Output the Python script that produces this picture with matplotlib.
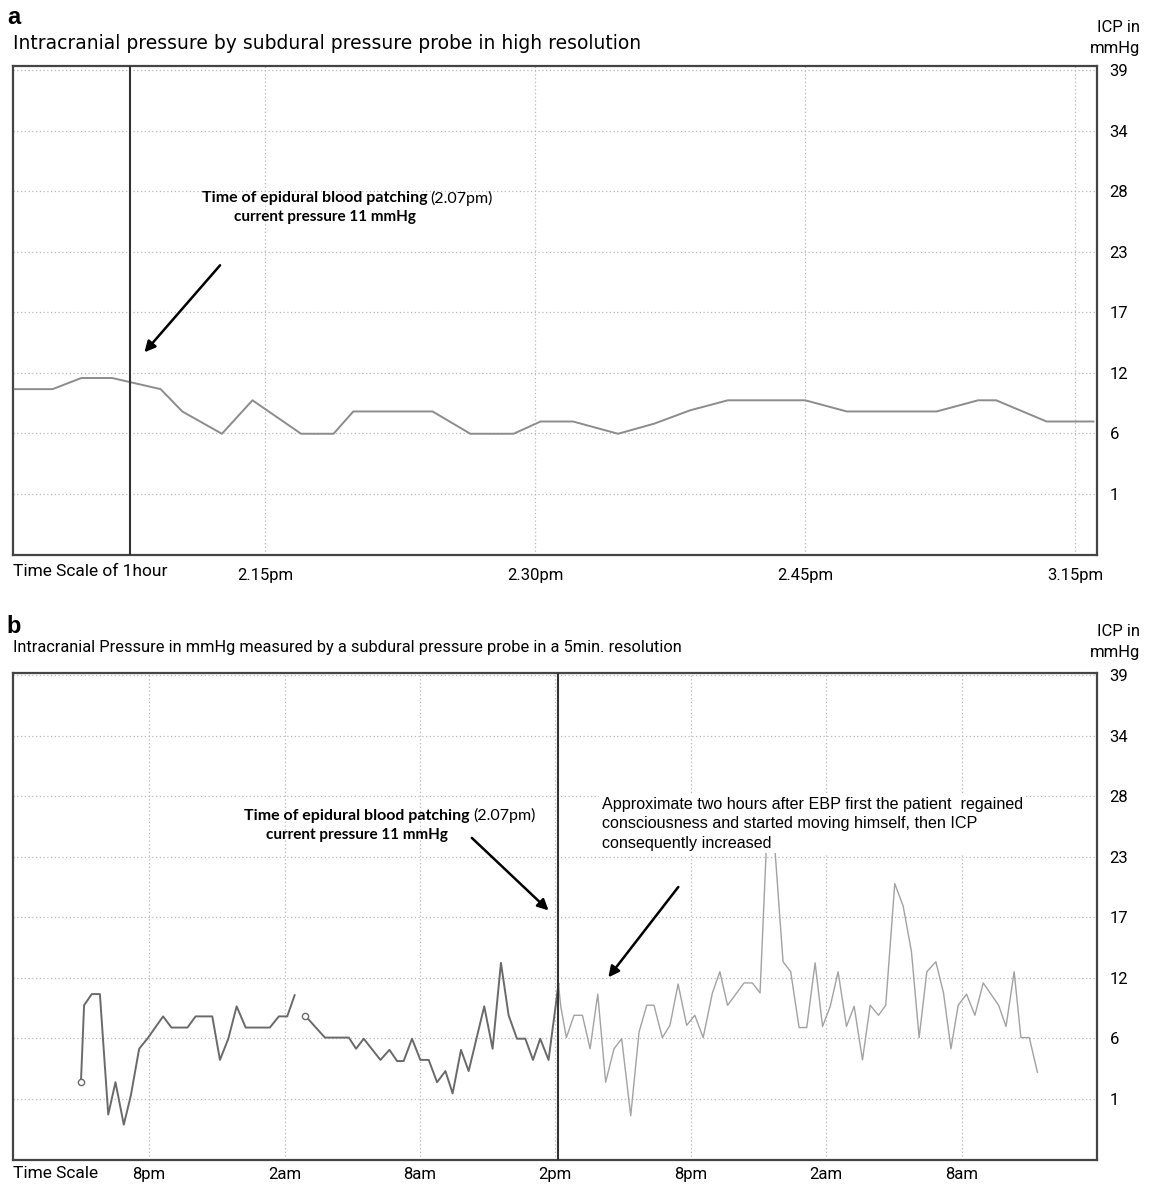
import numpy as np
import matplotlib
matplotlib.use("Agg")
from matplotlib import pyplot as plt

# ICP values (mmHg)
# panel a: minutes after 2pm
a_min = [1.1, 3.2, 4.8, 6.5, 9.2, 10.4, 12.6, 14.3, 17.0, 18.8, 19.9, 24.3, 26.4,
         28.8, 30.3, 32.1, 34.6, 36.6, 38.6, 40.7, 45.0, 47.3, 52.3, 54.6, 55.6,
         58.4, 61.0]
a_icp = [10.4, 10.4, 11.4, 11.4, 10.4, 8.4, 6.4, 9.4, 6.4, 6.4, 8.4, 8.4, 6.4,
         6.4, 7.5, 7.5, 6.4, 7.3, 8.5, 9.4, 9.4, 8.4, 8.4, 9.4, 9.4, 7.5, 7.5]
a_ticks = [15, 30, 45, 60]
a_labels = ["2.15pm", "2.30pm", "2.45pm", "3.15pm"]
a_ebp = 7.5

# panel b: hours after 8pm (day 1)
b1_h = [-3.02, -2.88, -2.54, -2.18, -1.81, -1.49, -1.12, -0.81, -0.44, -0.04, 0.62,
        0.99, 1.70, 2.06, 2.80, 3.14, 3.51, 3.88, 4.28, 5.35, 5.75, 6.12, 6.45]
b1_v = [2.5, 9.4, 10.4, 10.4, -0.4, 2.5, -1.3, 1.3, 5.5, 6.5, 8.4, 7.4, 7.4, 8.4,
        8.4, 4.5, 6.4, 9.3, 7.4, 7.4, 8.4, 8.4, 10.3]
b2_h = [6.90, 7.08, 7.79, 8.85, 9.17, 9.51, 10.25, 10.65, 10.99, 11.28, 11.65,
        12.02, 12.39, 12.76, 13.13, 13.45, 13.82, 14.16, 14.85, 15.22, 15.59, 15.93,
        16.30, 16.67, 17.01, 17.33, 17.70, 18.14]
b2_v = [8.4, 8.1, 6.5, 6.5, 5.5, 6.4, 4.5, 5.4, 4.4, 4.4, 6.4, 4.5, 4.5, 2.5, 3.5,
        1.5, 5.4, 3.5, 9.3, 5.5, 13.2, 8.5, 6.4, 6.4, 4.5, 6.4, 4.5, 11.3]
b3_h = [18.14, 18.24, 18.49, 18.83, 19.20, 19.54, 19.88, 20.23, 20.60, 20.94, 21.34,
        21.71, 22.05, 22.37, 22.74, 23.08, 23.44, 23.82, 24.18, 24.55, 24.96, 25.29,
        25.63, 26.00, 26.36, 26.73, 27.07, 27.37, 27.69, 28.09, 28.43, 28.80, 29.14,
        29.51, 29.84, 30.18, 30.53, 30.90, 31.24, 31.61, 31.95, 32.32, 32.64, 33.04,
        33.41, 33.78, 34.12, 34.46, 34.86, 35.20, 35.53, 35.85, 36.22, 36.59, 36.96,
        37.30, 37.64, 37.97, 38.33, 38.63, 39.00, 39.36]
b3_v = [11.3, 9.3, 6.5, 8.5, 8.5, 5.5, 10.4, 2.5, 5.5, 6.4, -0.5, 7.0, 9.4, 9.4,
        6.5, 7.6, 11.3, 7.6, 8.5, 6.5, 10.5, 12.4, 9.4, 10.4, 11.4, 11.4, 10.5, 24.5,
        24.5, 13.3, 12.4, 7.4, 7.4, 13.2, 7.5, 9.3, 12.4, 7.5, 9.3, 4.5, 9.4, 8.5,
        9.4, 20.3, 18.3, 14.2, 6.5, 12.4, 13.3, 10.5, 5.5, 9.4, 10.4, 8.5, 11.4, 10.4,
        9.4, 7.5, 12.4, 6.5, 6.5, 3.4]
b_ticks = [0, 6, 12, 18, 24, 30, 36]
b_labels = ["8pm", "2am", "8am", "2pm", "8pm", "2am", "8am"]
b_ebp = 18.12

# y axis: 8 evenly spaced ticks from 1 to 39
y_ticks = 1 + 38 / 7 * np.arange(8)
y_labels = [str(int(round(v))) for v in y_ticks]

NARROW = ["Roboto", "DejaVu Sans"]
GRID = dict(color="#b8b8b8", linestyle=(0, (1, 2)), linewidth=0.9)

fig = plt.figure(figsize=(11.5, 11.85), dpi=100)
ax_a = fig.add_axes([0.0113, 0.5316, 0.9426, 0.4127])
ax_b = fig.add_axes([0.0113, 0.0211, 0.9426, 0.4110])


def setup(ax, ticks, labels, xlim, ylim, xpad):
    ax.set_xlim(*xlim)
    ax.set_ylim(*ylim)
    for s in ax.spines.values():
        s.set_color("#444444")
        s.set_linewidth(1.6)
    ax.yaxis.tick_right()
    ax.set_yticks(y_ticks)
    ax.set_yticklabels(y_labels, family=NARROW, fontsize=12)
    ax.set_xticks(ticks)
    ax.set_xticklabels(labels, family=NARROW, fontsize=12)
    ax.tick_params(length=0)
    ax.tick_params(axis="x", pad=xpad)
    ax.tick_params(axis="y", pad=9)
    for y in y_ticks:
        ax.axhline(y, zorder=0, **GRID)
    for x in ticks:
        ax.axvline(x, zorder=0, **GRID)


# ---- panel a ----
setup(ax_a, a_ticks, a_labels, (1.0, 61.2), (-4.47, 39.36), 9)
ax_a.plot(a_min, a_icp, color="#8c8c8c", lw=1.4, zorder=3)
ax_a.axvline(a_ebp, color="#333333", lw=1.5, zorder=4)
ax_a.text(0, -0.018, "Time Scale of 1hour", transform=ax_a.transAxes, ha="left",
          va="top", family=NARROW, fontsize=12.5)
ax_a.text(24.0, 27.5, "Time of epidural blood patching", ha="right", va="center",
          family="Lato", weight="bold", fontsize=11.5)
ax_a.text(24.2, 27.5, "(2.07pm)", ha="left", va="center", family="Lato", fontsize=11.5)
ax_a.text(18.3, 25.8, "current pressure 11 mmHg", ha="center", va="center",
          family="Lato", weight="bold", fontsize=11)
ax_a.annotate("", xy=(8.3, 13.7), xytext=(12.5, 21.5),
              arrowprops=dict(arrowstyle="-|>", color="black", lw=1.8,
                              mutation_scale=16, shrinkA=0, shrinkB=0))

# ---- panel b ----
setup(ax_b, b_ticks, b_labels, (-6.03, 42.0), (-4.47, 39.18), 5)
ax_b.plot(b1_h, b1_v, color="#6a6a6a", lw=1.4, zorder=3)
ax_b.plot(b2_h, b2_v, color="#6a6a6a", lw=1.4, zorder=3)
ax_b.plot(b3_h, b3_v, color="#a2a2a2", lw=1.0, zorder=3)
ax_b.plot([b1_h[0], b2_h[0]], [b1_v[0], b2_v[0]], "o", ms=4.5, mfc="white",
          mec="#6a6a6a", mew=1.0, zorder=4)
ax_b.axvline(b_ebp, color="#333333", lw=1.5, zorder=4)
ax_b.text(0, -0.012, "Time Scale", transform=ax_b.transAxes, ha="left",
          va="top", family=NARROW, fontsize=12.5)
ax_b.text(14.2, 26.4, "Time of epidural blood patching", ha="right", va="center",
          family="Lato", weight="bold", fontsize=11.5)
ax_b.text(14.35, 26.4, "(2.07pm)", ha="left", va="center", family="Lato", fontsize=11.5)
ax_b.text(9.2, 24.7, "current pressure 11 mmHg", ha="center", va="center",
          family="Lato", weight="bold", fontsize=11)
ax_b.annotate("", xy=(17.7, 17.9), xytext=(14.3, 24.4),
              arrowprops=dict(arrowstyle="-|>", color="black", lw=1.8,
                              mutation_scale=16, shrinkA=0, shrinkB=0))
ax_b.text(20.05, 28.1,
          "Approximate two hours after EBP first the patient  regained\n"
          "consciousness and started moving himself, then ICP\n"
          "consequently increased",
          ha="left", va="top", family="Liberation Sans", fontsize=11.6,
          linespacing=1.38, zorder=5,
          bbox=dict(facecolor="white", edgecolor="none", pad=2))
ax_b.annotate("", xy=(20.35, 11.9), xytext=(23.45, 20.0),
              arrowprops=dict(arrowstyle="-|>", color="black", lw=1.8,
                              mutation_scale=16, shrinkA=0, shrinkB=0))

# ---- figure texts ----
fig.text(0.006, 0.985, "a", ha="left", va="center", fontsize=17, weight="bold",
         family="Liberation Sans")
fig.text(0.011, 0.963, "Intracranial pressure by subdural pressure probe in high resolution",
         ha="left", va="center", fontsize=13.5, family="DejaVu Sans")
fig.text(0.006, 0.471, "b", ha="left", va="center", fontsize=17, weight="bold",
         family="Liberation Sans")
fig.text(0.011, 0.454,
         "Intracranial Pressure in mmHg measured by a subdural pressure probe in a 5min. resolution",
         ha="left", va="center", fontsize=11.8, family=NARROW)
for yy in (0.977, 0.467):
    fig.text(0.991, yy, "ICP in", ha="right", va="center", fontsize=12, family=NARROW)
    fig.text(0.991, yy - 0.018, "mmHg", ha="right", va="center", fontsize=12, family=NARROW)

fig.savefig("out.png", dpi=100)
print("See image out.png")
